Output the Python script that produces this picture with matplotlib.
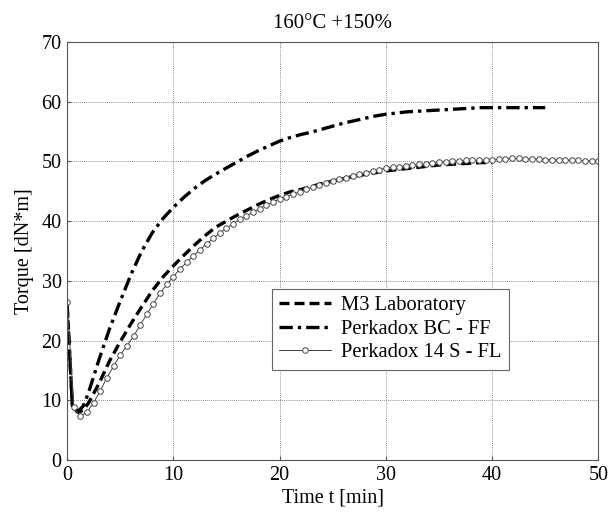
import numpy as np
import matplotlib.pyplot as plt

plt.rcParams['font.family'] = ['Liberation Serif', 'DejaVu Serif']

# M3 Laboratory (dashed)
m3_time = [0, 0.5, 1, 1.5, 2, 3, 4, 5, 6, 7, 8, 9, 10, 11, 12, 13, 14, 15,
           16, 17, 18, 19, 20, 21, 22, 23, 24, 25, 26, 27, 28, 29, 30, 31,
           32, 33, 34, 35, 36, 37, 38, 39, 40]
m3_torque = [26.0, 9.0, 8.0, 8.3, 9.5, 12.8, 16.6, 19.8, 22.8, 25.6, 28.3,
             30.6, 32.5, 34.3, 36.0, 37.6, 39.0, 40.0, 41.0, 41.9, 42.8,
             43.6, 44.3, 44.9, 45.3, 45.8, 46.3, 46.7, 47.1, 47.5, 47.8,
             48.1, 48.4, 48.6, 48.8, 49.0, 49.2, 49.4, 49.5, 49.6, 49.7,
             49.8, 49.8]

# Perkadox BC - FF (dash-dot)
bc_time = [0, 0.5, 1, 1.5, 2, 3, 4, 5, 6, 7, 8, 9, 10, 11, 12, 13, 14, 15,
           16, 17, 18, 19, 20, 21, 22, 23, 24, 25, 26, 27, 28, 29, 30, 31,
           32, 33, 34, 35, 36, 37, 38, 39, 40, 41, 42, 43, 44, 45]
bc_torque = [26.0, 9.0, 8.1, 9.0, 11.2, 16.8, 22.0, 26.6, 31.0, 34.9, 38.0,
             40.4, 42.3, 44.0, 45.5, 46.8, 47.9, 48.9, 49.9, 50.9, 51.8,
             52.6, 53.4, 54.0, 54.5, 54.9, 55.4, 55.9, 56.4, 56.8, 57.2,
             57.6, 57.9, 58.1, 58.3, 58.4, 58.5, 58.6, 58.7, 58.8, 58.9,
             59.0, 59.0, 59.0, 59.0, 59.0, 59.0, 59.0]

# Perkadox 14 S - FL (thin line with markers), sampled every 0.625 min
fl_time = np.arange(81) * 0.625
fl_torque = [26.5, 8.8, 7.3, 8.0, 9.6, 11.6, 13.8, 15.7, 17.6, 19.1, 20.7,
             22.6, 24.4, 26.2, 27.9, 29.4, 30.7, 32.0, 33.1, 34.2, 35.2,
             36.2, 37.1, 38.0, 38.8, 39.6, 40.3, 40.9, 41.5, 42.1, 42.7,
             43.2, 43.7, 44.1, 44.5, 44.9, 45.3, 45.7, 46.0, 46.4, 46.7,
             47.0, 47.3, 47.6, 47.9, 48.1, 48.4, 48.6, 48.9, 49.0, 49.1,
             49.3, 49.4, 49.5, 49.6, 49.8, 49.9, 49.95, 50.0, 50.1, 50.15,
             50.2, 50.2, 50.25, 50.3, 50.35, 50.4, 50.5, 50.5, 50.45, 50.4,
             50.35, 50.3, 50.3, 50.25, 50.2, 50.2, 50.15, 50.1, 50.05, 50.0]

fig = plt.figure(figsize=(6.10, 5.18), dpi=100)
ax = fig.add_axes([0.110, 0.112, 0.871, 0.807])

ax.plot(m3_time, m3_torque, color='black', linestyle=(0, (3, 1.5)),
        linewidth=2.4, label='M3 Laboratory')
ax.plot(bc_time, bc_torque, color='black', linestyle=(0, (4, 1.5, 1, 1.5)),
        linewidth=2.4, label='Perkadox BC - FF')
ax.plot(fl_time, fl_torque, color='#444444', linewidth=0.7, marker='o',
        markersize=4, markerfacecolor='white', markeredgecolor='#444444',
        markeredgewidth=0.7, label='Perkadox 14 S - FL')

ax.set_xlim(0, 50)
ax.set_ylim(0, 70)
ax.set_xticks(range(0, 51, 10))
ax.set_yticks(range(0, 71, 10))
ax.grid(True, linestyle=(0, (1, 1.5)), color='#666666', linewidth=0.6)
ax.tick_params(direction='in', length=3, labelsize=14.5, color='#555555',
               pad=4)
for sp in ax.spines.values():
    sp.set_color('#555555')
    sp.set_linewidth(0.8)

ax.set_title('160°C +150%', fontsize=15, pad=10)
ax.set_xlabel('Time t [min]', fontsize=14.5, labelpad=3)
ax.set_ylabel('Torque [dN*m]', fontsize=14.5, labelpad=5)

leg = ax.legend(loc='lower left', bbox_to_anchor=(0.386, 0.216), fontsize=14.8,
                fancybox=False, framealpha=1, edgecolor='#666666',
                handlelength=2.5, borderpad=0.35, labelspacing=0.2,
                handletextpad=0.5, borderaxespad=0)
leg.get_frame().set_linewidth(0.8)

plt.savefig('out.png', dpi=100)
